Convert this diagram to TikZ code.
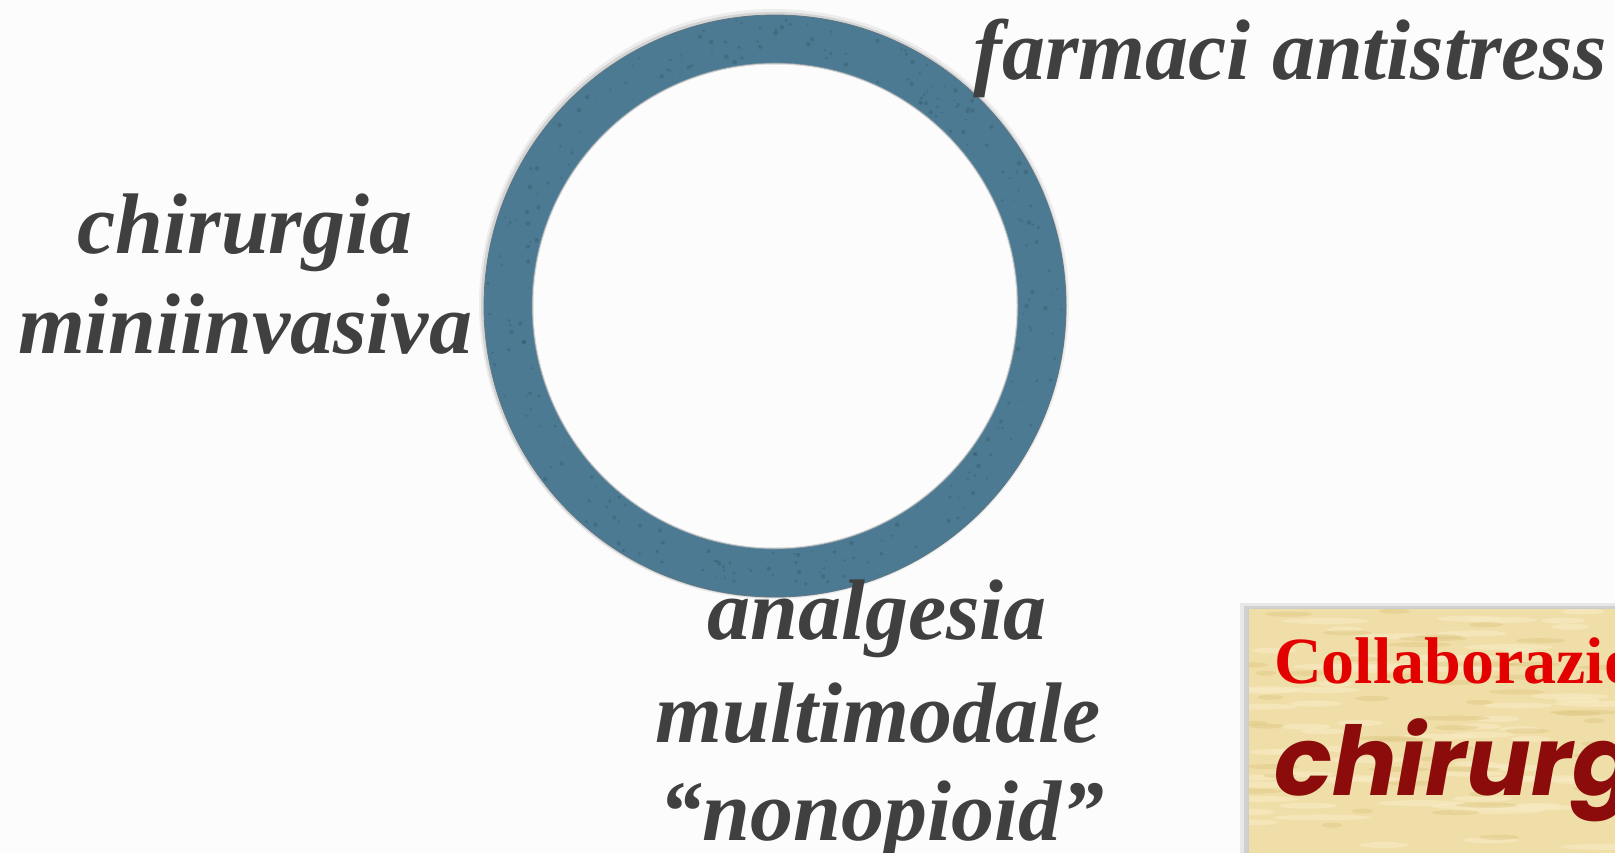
\documentclass[tikz,border=0pt]{standalone}
\usepackage{fontspec}
\setmainfont{Liberation Serif}
\newfontfamily\comicfont{Poppins}
\usetikzlibrary{calc}
\definecolor{bgwhite}{RGB}{252,252,252}
\definecolor{ringblue}{RGB}{76,122,146}
\definecolor{ringdark}{RGB}{52,84,100}
\definecolor{txtgray}{RGB}{64,64,64}
\definecolor{paper}{RGB}{240,222,168}
\definecolor{paperlight}{RGB}{248,236,196}
\definecolor{paperdark}{RGB}{222,198,130}
\definecolor{redtitle}{RGB}{226,0,0}
\definecolor{darkred}{RGB}{140,12,12}
\tikzset{
  label/.style={font=\fontsize{86}{95}\selectfont\bfseries\itshape, text=txtgray, anchor=base, inner sep=0pt},
}
\begin{document}
\begin{tikzpicture}[x=1pt,y=-1pt]
\useasboundingbox (0,0) rectangle (1615,853);
\fill[bgwhite] (0,0) rectangle (1615,853);
% ring
\coordinate (c) at (775,306);
\fill[black,opacity=0.06] ($(c)+(-1pt,2pt)$) circle (295pt);
\fill[black,opacity=0.10] ($(c)+(-1pt,1pt)$) circle (293pt);
\fill[bgwhite] (c) circle (241.5pt);
\fill[ringblue, even odd rule] (c) circle (291pt) (c) circle (243pt);
\pgfmathsetseed{7}
\foreach \i in {1,...,260} {
  \pgfmathsetmacro\ang{rnd*360}
  \pgfmathsetmacro\rad{246+rnd*42}
  \pgfmathsetmacro\sz{0.8+rnd*1.6}
  \fill[ringdark,opacity=0.35] ($(c)+(\ang:\rad pt)$) circle (\sz pt);
}
\draw[ringdark!80,line width=0.8pt] (c) circle (291pt);
\draw[ringdark!60,line width=0.6pt] (c) circle (243pt);
% labels
\node[label] (farm) at (1290,80) {farmaci antistress};
\node[label] (chir1) at (245,254) {chirurgia};
\node[label] (chir2) at (245,353) {miniinvasiva};
\node[label] (anal1) at (877,639) {analgesia};
\node[label] (anal2) at (878,742) {multimodale};
\node[label] (anal3) at (882,840) {“nonopioid”};
% box
\fill[black,opacity=0.08] (1240,603) rectangle (1615,853);
\fill[black,opacity=0.10] (1244,606) rectangle (1615,853);
\begin{scope}
\clip (1248,608) rectangle (1615,853);
\fill[paper] (1248,608) rectangle (1615,853);
\pgfmathsetseed{11}
\foreach \i in {1,...,70} {
  \pgfmathsetmacro\px{1250+rnd*365}
  \pgfmathsetmacro\py{610+rnd*243}
  \pgfmathsetmacro\w{15+rnd*35}
  \fill[paperlight,opacity=0.6] (\px,\py) ellipse (\w pt and 3pt);
}
\foreach \i in {1,...,50} {
  \pgfmathsetmacro\px{1250+rnd*365}
  \pgfmathsetmacro\py{610+rnd*243}
  \pgfmathsetmacro\w{10+rnd*25}
  \fill[paperdark,opacity=0.45] (\px,\py) ellipse (\w pt and 2.5pt);
}
\node[font=\fontsize{66}{70}\selectfont\bfseries, text=redtitle, anchor=base west, inner sep=0pt] (coll) at (1274,683) {Collaborazione};
\node[font=\comicfont\fontsize{96}{100}\selectfont\bfseries\itshape, text=darkred, anchor=base west, inner sep=0pt] (chg) at (1274,795) {chirurgo};
\end{scope}
\draw[black!20,line width=1pt] (1248,853) -- (1248,608) -- (1615,608);
\end{tikzpicture}
\end{document}
